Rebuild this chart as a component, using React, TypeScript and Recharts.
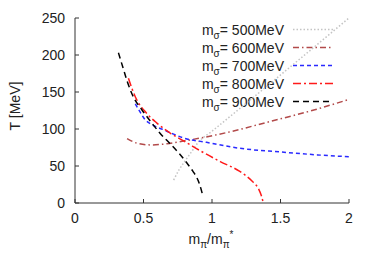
import React from 'react';
import { LineChart, Line, XAxis, YAxis, Customized } from 'recharts';

// m_sigma values of the five curves
const SIGMA_MASSES = ['500', '600', '700', '800', '900'];

const X500 = [0.72, 0.76, 0.8, 0.85, 0.9, 1.0, 1.5, 2.0];
const T500 = [31, 45, 56, 69, 82, 97, 173, 250];

const X600 = [0.38, 0.45, 0.55, 0.67, 0.8, 0.95, 1.15, 1.4, 1.75, 2.0];
const T600 = [87, 81, 78.5, 80, 84, 89, 97, 109, 126, 140];

const X700 = [0.44, 0.475, 0.51, 0.56, 0.646, 0.72, 0.79, 0.96, 1.2, 1.5, 1.77, 2.0];
const T700 = [134, 123, 113, 106, 99, 93, 88, 82, 74, 69, 65, 62.5];

const X800 = [0.39, 0.439, 0.524, 0.598, 0.695, 0.82, 0.92, 1.06, 1.2, 1.29, 1.34, 1.36, 1.375];
const T800 = [168.5, 144, 121, 108, 94.5, 81, 70, 56, 43, 30, 19, 10, 0];

const X900 = [0.317, 0.35, 0.38, 0.427, 0.488, 0.561, 0.622, 0.695, 0.76, 0.817, 0.86, 0.89, 0.91, 0.93];
const T900 = [203, 183, 165, 143, 126, 108, 94, 80, 67, 54, 43, 34, 25, 12];

const X_TICKS = [0, 0.5, 1, 1.5, 2];
const Y_TICKS = [0, 50, 100, 150, 200, 250];

const FONT = '"Liberation Sans", Arial, sans-serif';
const AXIS = '#333';

const toPoints = (xs: number[], ts: number[]) => xs.map((x, i) => ({ x, T: ts[i] }));

const series = [
  { name: SIGMA_MASSES[0], data: toPoints(X500, T500), color: '#c4c4c4', dash: '1.5 2' },
  { name: SIGMA_MASSES[1], data: toPoints(X600, T600), color: '#b24a4a', dash: '6 3 1.5 3' },
  { name: SIGMA_MASSES[2], data: toPoints(X700, T700), color: '#2a2aff', dash: '4 3' },
  { name: SIGMA_MASSES[3], data: toPoints(X800, T800), color: '#ff1a1a', dash: '8 3 2 3' },
  { name: SIGMA_MASSES[4], data: toPoints(X900, T900), color: '#000000', dash: '6 4' },
];

const Labels = () => (
  <g fontFamily={FONT} fill="#222">
    {series.map((s, i) => {
      const y = 29.5 + i * 18;
      return (
        <g key={s.name}>
          <text x={284} y={y + 5} fontSize={14} textAnchor="end">
            <tspan>m</tspan>
            <tspan dy={4} fontSize={10}>σ</tspan>
            <tspan dy={-4}>= {s.name}MeV</tspan>
          </text>
          <line x1={293} x2={333} y1={y} y2={y} stroke={s.color}
                strokeWidth={1.5} strokeDasharray={s.dash} />
        </g>
      );
    })}
    <text x={20} y={106} fontSize={14} textAnchor="middle" transform="rotate(-90 20 106)">
      T [MeV]
    </text>
    <text x={211} y={244} fontSize={14} textAnchor="middle">
      <tspan>m</tspan>
      <tspan dy={4} fontSize={10}>π</tspan>
      <tspan dy={-4}>/m</tspan>
      <tspan dy={4} fontSize={10}>π</tspan>
      <tspan dy={-10} fontSize={10}>*</tspan>
    </text>
  </g>
);

export default function App() {
  return (
    <div style={{ position: 'absolute', left: 0, top: 0 }}>
      <LineChart width={374} height={262} margin={{ top: 18, right: 25, bottom: 29, left: 0 }}>
        <XAxis xAxisId="b" type="number" dataKey="x" domain={[0, 2]} ticks={X_TICKS}
               interval={0} height={30} tickSize={-4} tickMargin={14} stroke={AXIS}
               tick={{ fill: '#222', fontSize: 14, fontFamily: FONT }} />
        <XAxis xAxisId="t" orientation="top" type="number" dataKey="x" domain={[0, 2]}
               ticks={X_TICKS} interval={0} height={0} tickSize={-4} tick={false} stroke={AXIS} />
        <YAxis yAxisId="l" type="number" domain={[0, 250]} ticks={Y_TICKS} interval={0}
               width={75} tickSize={-4} tickMargin={14} stroke={AXIS}
               tick={{ fill: '#222', fontSize: 14, fontFamily: FONT }} />
        <YAxis yAxisId="r" orientation="right" type="number" domain={[0, 250]} ticks={Y_TICKS}
               interval={0} width={0} tickSize={-4} tick={false} stroke={AXIS} />
        {series.map((s) => (
          <Line key={s.name} xAxisId="b" yAxisId="l" data={s.data} dataKey="T" type="monotone"
                stroke={s.color} strokeWidth={1.5} strokeDasharray={s.dash} dot={false}
                isAnimationActive={false} />
        ))}
        <Customized component={Labels} />
      </LineChart>
    </div>
  );
}
